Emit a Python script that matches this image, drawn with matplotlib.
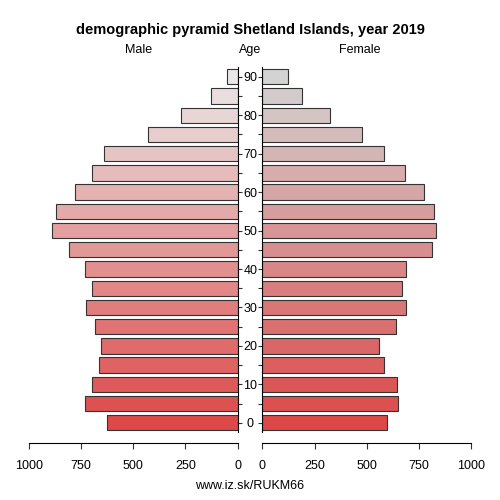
import numpy as np
import matplotlib.pyplot as plt

plt.rcParams['font.family'] = ['Liberation Sans', 'DejaVu Sans']

# ---------------- data ----------------
age_groups = ["0", "5", "10", "15", "20", "25", "30", "35", "40", "45",
              "50", "55", "60", "65", "70", "75", "80", "85", "90"]
male = [625, 732, 696, 662, 653, 684, 726, 696, 732, 809,
        890, 868, 777, 696, 638, 431, 271, 126, 53]
female = [598, 649, 643, 584, 557, 638, 689, 670, 689, 813,
          833, 823, 772, 681, 584, 478, 325, 188, 124]
x_ticks = [0, 250, 500, 750, 1000]


def gradient(c0, c1, n):
    c0 = np.array(c0) / 255.0
    c1 = np.array(c1) / 255.0
    return [tuple(c0 + (c1 - c0) * k / (n - 1)) for k in range(n)]


n = len(age_groups)
pos = np.arange(n)
male_colors = gradient((221, 72, 72), (233, 231, 231), n)
female_colors = gradient((220, 72, 72), (211, 211, 211), n)

fig = plt.figure(figsize=(5, 5), dpi=100)
ax_m = fig.add_axes([0.0574, 0.1352, 0.418, 0.7304])
ax_f = fig.add_axes([0.5246, 0.1352, 0.418, 0.7304])

ax_m.barh(pos, male, height=0.8, color=male_colors, edgecolor='#333333', linewidth=0.8)
ax_f.barh(pos, female, height=0.8, color=female_colors, edgecolor='#333333', linewidth=0.8)

for ax in (ax_m, ax_f):
    ax.set_ylim(-0.5, n - 0.5)
    ax.spines['top'].set_visible(False)
    ax.spines['bottom'].set_position(('outward', 7.3))
    ax.set_xticks(x_ticks)
    ax.set_xticklabels([str(t) for t in x_ticks])
    ax.tick_params(axis='x', length=4.5, width=0.8, pad=8, labelsize=9, color='#333333')
    ax.set_yticks(pos)
    ax.patch.set_visible(False)

ax_m.set_xlim(1000, 0)
ax_m.spines['left'].set_visible(False)
ax_m.yaxis.tick_right()
ax_m.set_yticklabels([a if i % 2 == 0 else "" for i, a in enumerate(age_groups)])
ax_m.tick_params(axis='y', length=3, width=0.8, pad=6, labelsize=9, color='#333333')
for lab in ax_m.get_yticklabels():
    lab.set_horizontalalignment('center')

ax_f.set_xlim(0, 1000)
ax_f.spines['right'].set_visible(False)
ax_f.set_yticklabels([])
ax_f.tick_params(axis='y', length=3, width=0.8, color='#333333')

fig.text(0.5, 0.94, "demographic pyramid Shetland Islands, year 2019",
         ha='center', va='center', fontsize=10.5, fontweight='bold')
fig.text(0.278, 0.90, "Male", ha='center', va='center', fontsize=9)
fig.text(0.5, 0.90, "Age", ha='center', va='center', fontsize=9)
fig.text(0.72, 0.90, "Female", ha='center', va='center', fontsize=9)
fig.text(0.5, 0.028, "www.iz.sk/RUKM66", ha='center', va='center', fontsize=9)

fig.savefig("out.png", dpi=100)
